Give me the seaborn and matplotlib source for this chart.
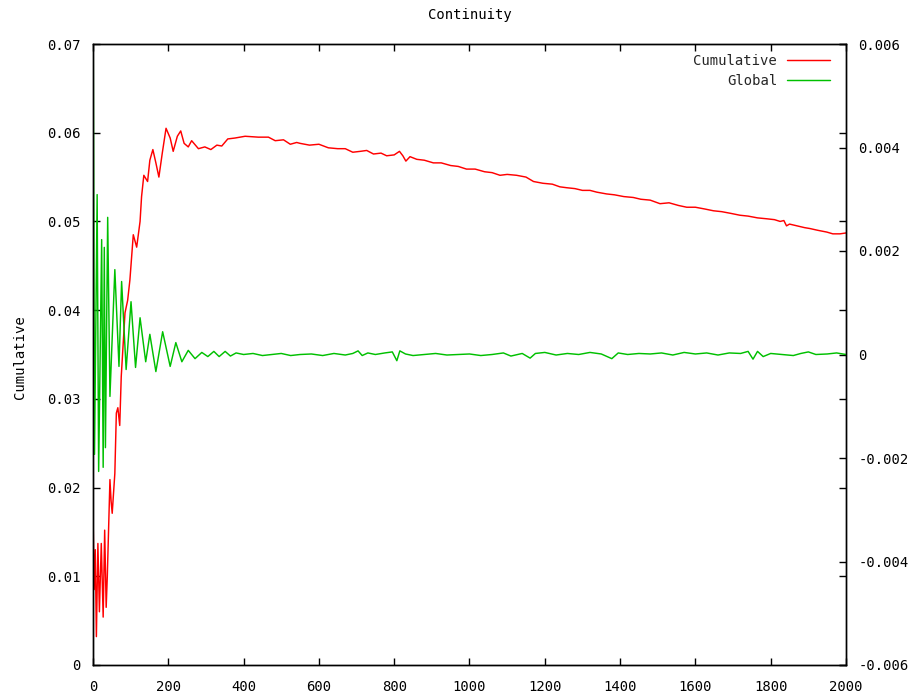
import matplotlib
matplotlib.use("Agg")
import matplotlib.pyplot as plt
import seaborn as sns
import pandas as pd

# ---------------- data ----------------
title = "Continuity"
ylabel = "Cumulative"
series_names = ["Cumulative", "Global"]

cum_x = [0, 3, 6, 9, 13, 17, 22, 27, 31, 35, 38, 45, 48, 51, 58, 62, 66, 71, 75,
         85, 92, 98, 107, 116, 125, 129, 135, 145, 151, 159, 167, 175, 184, 194,
         205, 213, 224, 233, 242, 253, 262, 280, 297, 313, 329, 342, 358, 377,
         404, 439, 466, 484, 506, 524, 541, 550, 575, 600, 625, 650, 670, 690,
         710, 727, 745, 765, 780, 800, 814, 823, 831, 842, 860, 880, 904, 925,
         950, 970, 992, 1015, 1040, 1060, 1081, 1100, 1125, 1150, 1170, 1195,
         1220, 1240, 1258, 1280, 1300, 1320, 1338, 1364, 1385, 1410, 1435, 1455,
         1480, 1506, 1530, 1555, 1577, 1600, 1625, 1648, 1670, 1695, 1718, 1740,
         1765, 1789, 1810, 1825, 1835, 1842, 1850, 1870, 1890, 1904, 1925, 1949,
         1965, 1984, 2000]
cum_y = [0.0175, 0.0085, 0.0130, 0.0032, 0.0137, 0.0060, 0.0137, 0.0054, 0.0152,
         0.0065, 0.0100, 0.0209, 0.0185, 0.0171, 0.0216, 0.0284, 0.0290, 0.0270,
         0.0325, 0.0397, 0.0411, 0.0434, 0.0485, 0.0471, 0.0500, 0.0528, 0.0552,
         0.0545, 0.0569, 0.0581, 0.0566, 0.0550, 0.0577, 0.0605, 0.0594, 0.0579,
         0.0596, 0.0602, 0.0588, 0.0584, 0.0591, 0.0582, 0.0584, 0.0581, 0.0586,
         0.0585, 0.0593, 0.0594, 0.0596, 0.0595, 0.0595, 0.0591, 0.0592, 0.0587,
         0.0589, 0.0588, 0.0586, 0.0587, 0.0583, 0.0582, 0.0582, 0.0578, 0.0579,
         0.0580, 0.0576, 0.0577, 0.0574, 0.0575, 0.0579, 0.0574, 0.0568, 0.0573,
         0.0570, 0.0569, 0.0566, 0.0566, 0.0563, 0.0562, 0.0559, 0.0559, 0.0556,
         0.0555, 0.0552, 0.0553, 0.0552, 0.0550, 0.0545, 0.0543, 0.0542, 0.0539,
         0.0538, 0.0537, 0.0535, 0.0535, 0.0533, 0.0531, 0.0530, 0.0528, 0.0527,
         0.0525, 0.0524, 0.0520, 0.0521, 0.0518, 0.0516, 0.0516, 0.0514, 0.0512,
         0.0511, 0.0509, 0.0507, 0.0506, 0.0504, 0.0503, 0.0502, 0.0500, 0.0501,
         0.0495, 0.0497, 0.0495, 0.0493, 0.0492, 0.0490, 0.0488, 0.0486, 0.0486,
         0.0487]

glob_x = [0, 4, 11, 15, 23, 27, 30, 33, 39, 45, 58, 69, 76, 88, 101, 113, 125,
          140, 151, 167, 185, 205, 220, 236, 253, 271, 289, 305, 321, 335, 351,
          365, 380, 400, 425, 450, 475, 500, 525, 550, 580, 610, 640, 670, 690,
          704, 715, 730, 750, 775, 795, 807, 815, 830, 850, 880, 910, 940, 970,
          1000, 1030, 1060, 1090, 1110, 1140, 1161, 1175, 1200, 1230, 1260, 1290,
          1320, 1350, 1378, 1395, 1420, 1450, 1480, 1510, 1540, 1570, 1600, 1630,
          1660, 1690, 1720, 1740, 1753, 1765, 1780, 1800, 1830, 1860, 1880, 1900,
          1920, 1950, 1975, 2000]
glob_y = [0.0075, -0.00193, 0.00309, -0.00226, 0.00222, -0.00218, 0.00207,
          -0.00180, 0.00265, -0.00081, 0.00164, -0.00023, 0.00141, -0.00029,
          0.00102, -0.00025, 0.00071, -0.00014, 0.00039, -0.00033, 0.00044,
          -0.00023, 0.00023, -0.00014, 0.00008, -0.00008, 0.00004, -0.00004,
          0.00006, -0.00004, 0.00006, -0.00003, 0.00003, 0.0, 0.00002, -0.00002,
          0.0, 0.00002, -0.00002, 0.0, 0.00001, -0.00002, 0.00002, -0.00001,
          0.00002, 0.00007, -0.00002, 0.00003, 0.0, 0.00003, 0.00005, -0.00012,
          0.00007, 0.00001, -0.00002, 0.0, 0.00002, -0.00001, 0.0, 0.00001,
          -0.00002, 0.0, 0.00003, -0.00003, 0.00002, -0.00007, 0.00002, 0.00004,
          -0.00001, 0.00002, 0.0, 0.00004, 0.00001, -0.00008, 0.00003, 0.0,
          0.00002, 0.00001, 0.00003, -0.00001, 0.00004, 0.00001, 0.00003,
          -0.00001, 0.00003, 0.00002, 0.00006, -0.00009, 0.00006, -0.00004,
          0.00002, 0.0, -0.00002, 0.00002, 0.00005, 0.0, 0.00001, 0.00003, 0.0]

x_ticks = [0, 200, 400, 600, 800, 1000, 1200, 1400, 1600, 1800, 2000]
y_ticks = [0, 0.01, 0.02, 0.03, 0.04, 0.05, 0.06, 0.07]
y_ticklabels = ["0", "0.01", "0.02", "0.03", "0.04", "0.05", "0.06", "0.07"]
y2_ticks = [-0.006, -0.004, -0.002, 0, 0.002, 0.004, 0.006]
y2_ticklabels = ["-0.006", "-0.004", "-0.002", "0", "0.002", "0.004", "0.006"]

# ---------------- plot ----------------
sns.set_theme(style="white")
plt.rcParams['font.family'] = ['DejaVu Sans Mono']
plt.rcParams['axes.edgecolor'] = 'black'
plt.rcParams['axes.linewidth'] = 1.0

W, H = 908, 696
fig = plt.figure(figsize=(W / 100, H / 100), dpi=100)
ax = fig.add_axes([93 / W, (H - 665) / H, 753 / W, 621 / H])
ax2 = ax.twinx()

df_c = pd.DataFrame({"x": cum_x, "y": cum_y})
df_g = pd.DataFrame({"x": glob_x, "y": glob_y})
sns.lineplot(data=df_c, x="x", y="y", ax=ax, color="#ff0000", lw=1.05,
             label=series_names[0], legend=False, sort=False)
sns.lineplot(data=df_g, x="x", y="y", ax=ax2, color="#00c000", lw=1.05,
             label=series_names[1], legend=False, sort=False)

ax.set_xlim(0, 2000)
ax.set_ylim(0, 0.07)
ax2.set_ylim(-0.006, 0.006)
ax.set_xticks(x_ticks)
ax.set_xticklabels([str(t) for t in x_ticks])
ax.set_yticks(y_ticks)
ax.set_yticklabels(y_ticklabels)
ax2.set_yticks(y2_ticks)
ax2.set_yticklabels(y2_ticklabels)
ax.set_xlabel("")
ax.set_ylabel("")
ax2.set_ylabel("")

fs = 10
ax.tick_params(axis='x', direction='in', top=True, bottom=True, length=5,
               width=1, color='black', labelsize=fs, pad=11, labelcolor='black')
ax.tick_params(axis='y', direction='in', left=True, right=True, length=5,
               width=1, color='black', labelsize=fs, pad=9, labelcolor='black')
ax2.tick_params(axis='y', direction='in', left=False, right=True, length=5,
                width=1, color='black', labelsize=fs, pad=9, labelcolor='black')
for a in (ax, ax2):
    for s in a.spines.values():
        s.set_color('black')
        s.set_linewidth(1.0)

fig.text(469.5 / W, 1 - 15 / H, title, ha='center', va='center', fontsize=fs, color='black')
fig.text(20 / W, 1 - 357 / H, ylabel, rotation=90, ha='center', va='center',
         fontsize=fs, color='black')

h1, l1 = ax.get_legend_handles_labels()
h2, l2 = ax2.get_legend_handles_labels()
leg = ax2.legend(h1 + h2, l1 + l2, loc='upper right', frameon=False,
                 markerfirst=False, fontsize=fs, handlelength=3.1,
                 handletextpad=0.7, labelspacing=0.45, borderpad=0,
                 borderaxespad=0, bbox_to_anchor=(1 - 16 / 753, 1 - 10 / 621))

fig.savefig("out.png", dpi=100, facecolor='white')
